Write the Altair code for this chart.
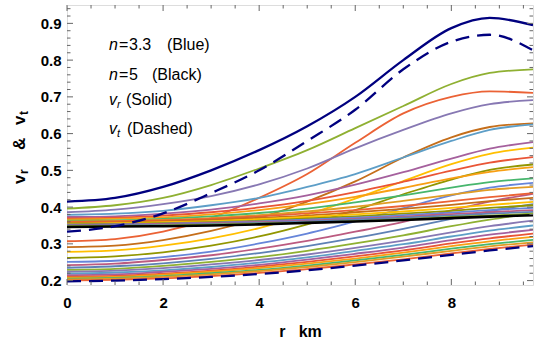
import altair as alt
import pandas as pd

# radial grid (km) shared by every profile
r_km = [0, 1, 2, 3, 4, 5, 6, 7, 8, 8.8, 9.7]

n_values = [3.3, 3.4, 3.5, 3.6, 3.7, 3.8, 3.9, 4.0, 4.1, 4.2,
            4.3, 4.4, 4.5, 4.6, 4.7, 4.8, 4.9, 5.0]

# radial sound speed v_r for each n
vr_n33 = [0.415, 0.425, 0.455, 0.500, 0.555, 0.620, 0.700, 0.800, 0.887, 0.915, 0.895]
vr_n34 = [0.396, 0.405, 0.425, 0.460, 0.505, 0.555, 0.615, 0.675, 0.735, 0.765, 0.775]
vr_n35 = [0.386, 0.393, 0.408, 0.430, 0.462, 0.505, 0.560, 0.610, 0.655, 0.680, 0.691]
vr_n36 = [0.379, 0.382, 0.390, 0.405, 0.425, 0.455, 0.490, 0.535, 0.580, 0.610, 0.625]
vr_n37 = [0.373, 0.375, 0.382, 0.393, 0.410, 0.432, 0.461, 0.495, 0.532, 0.559, 0.577]
vr_n38 = [0.369, 0.371, 0.377, 0.386, 0.399, 0.417, 0.441, 0.469, 0.499, 0.521, 0.536]
vr_n39 = [0.366, 0.368, 0.372, 0.380, 0.392, 0.408, 0.428, 0.452, 0.478, 0.496, 0.509]
vr_n40 = [0.363, 0.364, 0.368, 0.375, 0.384, 0.396, 0.413, 0.432, 0.453, 0.468, 0.478]
vr_n41 = [0.361, 0.362, 0.365, 0.370, 0.378, 0.388, 0.401, 0.417, 0.434, 0.447, 0.455]
vr_n42 = [0.359, 0.361, 0.364, 0.368, 0.375, 0.383, 0.392, 0.403, 0.416, 0.427, 0.438]
vr_n43 = [0.357, 0.358, 0.361, 0.365, 0.371, 0.377, 0.386, 0.395, 0.406, 0.416, 0.425]
vr_n44 = [0.355, 0.356, 0.359, 0.362, 0.367, 0.373, 0.380, 0.388, 0.398, 0.406, 0.414]
vr_n45 = [0.353, 0.354, 0.356, 0.359, 0.363, 0.369, 0.375, 0.382, 0.390, 0.398, 0.405]
vr_n46 = [0.352, 0.353, 0.355, 0.358, 0.361, 0.366, 0.371, 0.378, 0.385, 0.392, 0.398]
vr_n47 = [0.351, 0.352, 0.354, 0.356, 0.359, 0.363, 0.368, 0.374, 0.381, 0.386, 0.392]
vr_n48 = [0.350, 0.351, 0.352, 0.354, 0.357, 0.361, 0.366, 0.371, 0.377, 0.382, 0.387]
vr_n49 = [0.348, 0.349, 0.350, 0.352, 0.355, 0.358, 0.362, 0.367, 0.373, 0.377, 0.382]
vr_n50 = [0.346, 0.347, 0.348, 0.350, 0.353, 0.357, 0.361, 0.365, 0.370, 0.374, 0.378]

# tangential sound speed v_t for each n
vt_n33 = [0.333, 0.348, 0.383, 0.438, 0.500, 0.580, 0.665, 0.775, 0.850, 0.869, 0.827]
vt_n34 = [0.307, 0.313, 0.333, 0.370, 0.425, 0.490, 0.575, 0.655, 0.700, 0.715, 0.711]
vt_n35 = [0.291, 0.295, 0.310, 0.335, 0.370, 0.415, 0.470, 0.535, 0.590, 0.618, 0.628]
vt_n36 = [0.278, 0.282, 0.295, 0.315, 0.343, 0.380, 0.423, 0.471, 0.517, 0.545, 0.562]
vt_n37 = [0.262, 0.266, 0.277, 0.295, 0.320, 0.353, 0.392, 0.435, 0.475, 0.501, 0.516]
vt_n38 = [0.251, 0.254, 0.264, 0.279, 0.301, 0.328, 0.361, 0.397, 0.432, 0.453, 0.466]
vt_n39 = [0.242, 0.246, 0.256, 0.269, 0.287, 0.308, 0.333, 0.360, 0.391, 0.415, 0.436]
vt_n40 = [0.235, 0.239, 0.247, 0.259, 0.275, 0.294, 0.316, 0.341, 0.368, 0.389, 0.408]
vt_n41 = [0.229, 0.232, 0.240, 0.251, 0.264, 0.281, 0.301, 0.323, 0.348, 0.366, 0.383]
vt_n42 = [0.224, 0.227, 0.234, 0.244, 0.256, 0.271, 0.289, 0.309, 0.331, 0.348, 0.363]
vt_n43 = [0.219, 0.222, 0.228, 0.237, 0.249, 0.263, 0.281, 0.299, 0.320, 0.336, 0.350]
vt_n44 = [0.215, 0.217, 0.224, 0.232, 0.243, 0.257, 0.273, 0.290, 0.310, 0.325, 0.338]
vt_n45 = [0.211, 0.213, 0.219, 0.227, 0.238, 0.251, 0.266, 0.282, 0.301, 0.315, 0.328]
vt_n46 = [0.208, 0.210, 0.216, 0.224, 0.234, 0.246, 0.260, 0.276, 0.294, 0.307, 0.319]
vt_n47 = [0.205, 0.207, 0.212, 0.220, 0.229, 0.241, 0.255, 0.270, 0.287, 0.299, 0.311]
vt_n48 = [0.203, 0.205, 0.210, 0.217, 0.226, 0.237, 0.250, 0.265, 0.281, 0.293, 0.304]
vt_n49 = [0.200, 0.202, 0.206, 0.212, 0.221, 0.231, 0.244, 0.258, 0.274, 0.286, 0.298]
vt_n50 = [0.198, 0.200, 0.204, 0.210, 0.218, 0.228, 0.241, 0.255, 0.270, 0.282, 0.294]

vr_series = [vr_n33, vr_n34, vr_n35, vr_n36, vr_n37, vr_n38, vr_n39, vr_n40, vr_n41,
             vr_n42, vr_n43, vr_n44, vr_n45, vr_n46, vr_n47, vr_n48, vr_n49, vr_n50]
vt_series = [vt_n33, vt_n34, vt_n35, vt_n36, vt_n37, vt_n38, vt_n39, vt_n40, vt_n41,
             vt_n42, vt_n43, vt_n44, vt_n45, vt_n46, vt_n47, vt_n48, vt_n49, vt_n50]

# default 15-colour cycle, used in plotting order (v_r, v_t, v_r, v_t, ...)
palette = ["#5E81B5", "#E19C24", "#8FB032", "#EB6235", "#8778B3",
           "#C56E1A", "#5D9EC7", "#FFBF00", "#A5609D", "#929600",
           "#E95536", "#6685D9", "#F89F13", "#BC5B80", "#47B66D"]

x_major = [0, 2, 4, 6, 8]
x_minor = [0.5, 1, 1.5, 2.5, 3, 3.5, 4.5, 5, 5.5, 6.5, 7, 7.5, 8.5, 9, 9.5]
y_major = [0.2, 0.3, 0.4, 0.5, 0.6, 0.7, 0.8, 0.9]
y_minor = [0.22, 0.24, 0.26, 0.28, 0.32, 0.34, 0.36, 0.38, 0.42, 0.44, 0.46, 0.48,
           0.52, 0.54, 0.56, 0.58, 0.62, 0.64, 0.66, 0.68, 0.72, 0.74, 0.76, 0.78,
           0.82, 0.84, 0.86, 0.88, 0.92, 0.94]

NAVY = "#00007F"
FONT = "Liberation Sans"
TICK = "#666666"
PLOT_W, PLOT_H = 466, 280
MAJOR, MINOR = 6, 3.5


def frame(values, name, color):
    return pd.DataFrame({"r": r_km, "v": values, "series": name, "col": color})


colored, navy_solid, navy_dashed, black = [], [], [], []
last = len(n_values) - 1
for i, n in enumerate(n_values):
    vr, vt = vr_series[i], vt_series[i]
    if i == 0:
        navy_solid.append(frame(vr, f"vr{n}", NAVY))
        navy_dashed.append(frame(vt, f"vt{n}", NAVY))
    elif i == last:
        black.append(frame(vr, f"vr{n}", "#000000"))
        navy_dashed.append(frame(vt, f"vt{n}", NAVY))
    else:
        colored.append(frame(vr, f"vr{n}", palette[(2 * i) % 15]))
        colored.append(frame(vt, f"vt{n}", palette[(2 * i + 1) % 15]))

df_col = pd.concat(colored, ignore_index=True)
df_navy = pd.concat(navy_solid, ignore_index=True)
df_dash = pd.concat(navy_dashed, ignore_index=True)
df_black = pd.concat(black, ignore_index=True)

x_scale = alt.Scale(domain=[0, 9.7], nice=False, zero=False)
y_scale = alt.Scale(domain=[0.188, 0.95], nice=False, zero=False)

x_main_axis = alt.Axis(values=x_major, ticks=False, domain=False, grid=False,
                       labelFont=FONT, labelFontSize=15, labelFontWeight="bold",
                       labelColor="black", labelPadding=10, labelFlush=False,
                       labelOverlap=False, title="r\u00a0\u00a0\u00a0km",
                       titleFont=FONT, titleFontSize=16, titleFontWeight="bold",
                       titleColor="black", titlePadding=13)
y_main_axis = alt.Axis(values=y_major, format=".1f", ticks=False, domain=False,
                       grid=False, labelFont=FONT, labelFontSize=15,
                       labelFontWeight="bold", labelColor="black",
                       labelPadding=6, labelFlush=False, labelOverlap=False,
                       title=None)


def curves(df, width, dash=None, axes=False):
    kw = dict(strokeWidth=width, clip=True, interpolate="monotone")
    if dash:
        kw["strokeDash"] = dash
    return alt.Chart(df).mark_line(**kw).encode(
        x=alt.X("r:Q", scale=x_scale, axis=x_main_axis if axes else None),
        y=alt.Y("v:Q", scale=y_scale, axis=y_main_axis if axes else None),
        color=alt.Color("col:N", scale=None),
        detail="series:N",
    )


def x_ticks(values, y0, y1):
    # inward frame ticks on the top/bottom edges
    return alt.Chart(pd.DataFrame({"r": values})).mark_rule(
        color=TICK, strokeWidth=1
    ).encode(x=alt.X("r:Q", scale=x_scale, axis=None),
             y=alt.value(y0), y2=alt.value(y1))


def y_ticks(values, x0, x1):
    # inward frame ticks on the left/right edges
    return alt.Chart(pd.DataFrame({"v": values})).mark_rule(
        color=TICK, strokeWidth=1
    ).encode(y=alt.Y("v:Q", scale=y_scale, axis=None),
             x=alt.value(x0), x2=alt.value(x1))


def label(text, x, y, size=16, style="normal", weight="normal", angle=0):
    return alt.Chart(alt.Data(values=[{"t": text}])).mark_text(
        align="left", baseline="alphabetic", font=FONT, fontSize=size,
        fontStyle=style, fontWeight=weight, angle=angle, color="black",
    ).encode(text="t:N", x=alt.value(x), y=alt.value(y))


texts = [
    label("n", 42, 45, style="italic"), label("=", 52, 45),
    label("3.3", 62, 45), label("(Blue)", 100, 45),
    label("n", 42, 75, style="italic"), label("=", 52, 75),
    label("5", 62, 75), label("(Black)", 85, 75),
    label("v", 42, 100, style="italic"), label("r", 50, 103, size=11, style="italic"),
    label("(Solid)", 59, 100),
    label("v", 42, 129, style="italic"), label("t", 50, 132, size=11, style="italic"),
    label("(Dashed)", 60, 129),
    # rotated y-axis title
    label("v", -42, 179, size=17, weight="bold", angle=270),
    label("r", -39, 169, size=12, weight="bold", angle=270),
    label("&", -42, 145, size=17, weight="bold", angle=270),
    label("v", -42, 120, size=17, weight="bold", angle=270),
    label("t", -39, 110, size=12, weight="bold", angle=270),
]

ticks = [
    x_ticks(x_major, PLOT_H, PLOT_H - MAJOR), x_ticks(x_major, 0, MAJOR),
    x_ticks(x_minor, PLOT_H, PLOT_H - MINOR), x_ticks(x_minor, 0, MINOR),
    y_ticks(y_major, 0, MAJOR), y_ticks(y_major, PLOT_W, PLOT_W - MAJOR),
    y_ticks(y_minor, 0, MINOR), y_ticks(y_minor, PLOT_W, PLOT_W - MINOR),
]

layers = [
    curves(df_col, 1.8, axes=True),
    curves(df_black, 2.6),
    curves(df_navy, 2.3),
    curves(df_dash, 2.3, dash=[14, 8]),
] + ticks + texts

chart = alt.layer(*layers).resolve_axis(
    x="independent", y="independent"
).properties(
    width=PLOT_W, height=PLOT_H,
    autosize=alt.AutoSizeParams(type="none"),
    padding={"left": 67, "top": 5, "right": 4, "bottom": 62},
).configure_view(stroke="#222222", strokeWidth=1).configure(background="white")

chart.save("out.html", embed_options={"renderer": "svg", "actions": False})
